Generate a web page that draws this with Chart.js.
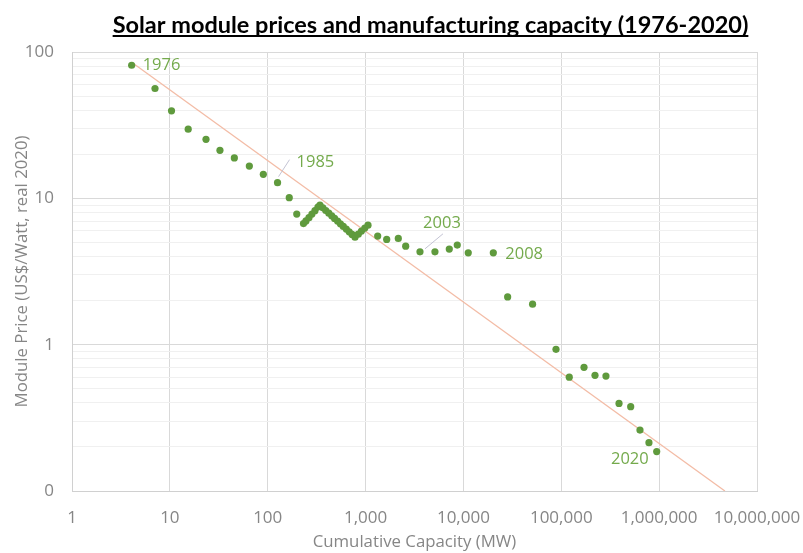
<!DOCTYPE html>
<html>
<head>
<meta charset="utf-8">
<script src="https://cdn.jsdelivr.net/npm/chart.js@4.4.1/dist/chart.umd.min.js"></script>
<style>
    html, body { margin: 0; padding: 0; background: #fff; }
    #wrap { width: 803px; height: 553px; position: relative; }
</style>
</head>
<body>
<div id="wrap"><canvas id="learningChart" width="803" height="553"></canvas></div>
<script>
// cumulative capacity (MW) and module price (US$/W, real 2020)
const capacityMW = [
    4.07, 7.05, 10.4, 15.4, 23.4, 32.5, 45.6, 64.9, 90.2, 126,
    166, 198, 232, 246, 264, 283, 304, 326, 342, 366,
    392, 421, 451, 482, 517, 553, 592, 635, 680, 728,
    780, 843, 908, 982, 1059, 1330, 1644, 2160, 2570, 3597,
    5117, 7170, 8650, 11200, 20200, 28300, 50900, 88300, 120700, 170700,
    221000, 286000, 389000, 512000, 637000, 787000, 944000
];
const priceUSD = [
    81.2, 56.3, 39.6, 29.7, 25.3, 21.3, 18.9, 16.6, 14.6, 12.8,
    10.1, 7.80, 6.72, 7.01, 7.38, 7.80, 8.24, 8.71, 8.99, 8.61,
    8.26, 7.92, 7.59, 7.29, 6.99, 6.70, 6.43, 6.16, 5.90, 5.67,
    5.43, 5.69, 5.97, 6.26, 6.56, 5.52, 5.24, 5.32, 4.71, 4.31,
    4.31, 4.50, 4.79, 4.24, 4.24, 2.12, 1.89, 0.93, 0.60, 0.70,
    0.617, 0.61, 0.397, 0.377, 0.261, 0.214, 0.186
];

// power-law trendline end points
const trendCapacity = [4.07, 4.7e6];
const trendPrice = [85, 0.1];

// year callouts and the point each one belongs to
const yearLabels = ['1976', '1985', '2003', '2008', '2020'];
const yearPointIndex = [0, 9, 39, 44, 56];

// axis ticks
const xTickValues = [1, 10, 100, 1000, 10000, 100000, 1000000, 10000000];
const yTickValues = [
    0.1, 0.2, 0.3, 0.4, 0.5, 0.6, 0.7, 0.8, 0.9,
    1, 2, 3, 4, 5, 6, 7, 8, 9,
    10, 20, 30, 40, 50, 60, 70, 80, 90, 100
];

const TITLE = 'Solar module prices and manufacturing capacity (1976-2020)';
const titleFont = { family: 'Lato, "Liberation Sans", sans-serif', size: 23.5, weight: 'bold' };
const axisFont = '"Open Sans", "Liberation Sans", sans-serif';
const greyText = '#868686';
const pointGreen = '#5f9a3d';
const labelGreen = '#74aa4c';

function isDecade(v) {
    const l = Math.log10(v);
    return Math.abs(l - Math.round(l)) < 1e-9;
}

// where each callout sits relative to its point (pixels)
const calloutStyle = [
    { dx: 11, dy: 0, align: 'left' },
    { dx: 19, dy: -20, align: 'left', leader: [1, -6, 12, -23] },
    { dx: 22, dy: -29, align: 'center', leader: [5, -3, 23, -18] },
    { dx: 12, dy: 1, align: 'left' },
    { dx: -8, dy: 8, align: 'right' }
];

const titlePlacement = {
    id: 'titlePlacement',
    afterLayout(chart) {
        // Excel centres the title a little right of the canvas middle
        const tb = chart.titleBlock;
        if (tb) { tb.left = 58; tb.right = 803; }
    },
    afterDraw(chart) {
        const tb = chart.titleBlock;
        if (!tb) return;
        const ctx = chart.ctx;
        ctx.save();
        ctx.font = `bold ${titleFont.size}px ${titleFont.family}`;
        const w = ctx.measureText(TITLE).width;
        const cx = (tb.left + tb.right) / 2;
        const y = tb.top + 11 + titleFont.size * 1.2 / 2 + 11;
        ctx.strokeStyle = '#000';
        ctx.lineWidth = 2;
        ctx.beginPath();
        ctx.moveTo(cx - w / 2, y);
        ctx.lineTo(cx + w / 2, y);
        ctx.stroke();
        ctx.restore();
    }
};

const yearCallouts = {
    id: 'yearCallouts',
    afterDatasetsDraw(chart) {
        const ctx = chart.ctx;
        const xs = chart.scales.x, ys = chart.scales.y;
        ctx.save();
        ctx.font = `16.5px ${axisFont}`;
        ctx.textBaseline = 'middle';
        yearLabels.forEach((txt, i) => {
            const idx = yearPointIndex[i];
            const px = xs.getPixelForValue(capacityMW[idx]);
            const py = ys.getPixelForValue(priceUSD[idx]);
            const st = calloutStyle[i];
            if (st.leader) {
                ctx.strokeStyle = '#c3c3d3';
                ctx.lineWidth = 1;
                ctx.beginPath();
                ctx.moveTo(px + st.leader[0], py + st.leader[1]);
                ctx.lineTo(px + st.leader[2], py + st.leader[3]);
                ctx.stroke();
            }
            ctx.fillStyle = labelGreen;
            ctx.textAlign = st.align;
            ctx.fillText(txt, px + st.dx, py + st.dy);
        });
        ctx.restore();
    }
};

const ctx = document.getElementById('learningChart');
new Chart(ctx, {
    type: 'scatter',
    data: {
        datasets: [
            {
                label: 'Module price',
                data: capacityMW.map((c, i) => ({ x: c, y: priceUSD[i] })),
                backgroundColor: pointGreen,
                borderColor: pointGreen,
                borderWidth: 0,
                pointRadius: 3.6,
                order: 1
            },
            {
                label: 'Trend',
                type: 'line',
                data: trendCapacity.map((c, i) => ({ x: c, y: trendPrice[i] })),
                borderColor: '#f3bca6',
                borderWidth: 1.3,
                pointRadius: 0,
                fill: false,
                order: 2
            }
        ]
    },
    options: {
        responsive: false,
        animation: false,
        layout: { padding: { left: 0, right: 46, top: 0, bottom: 0 } },
        plugins: {
            legend: { display: false },
            tooltip: { enabled: false },
            title: {
                display: true,
                text: TITLE,
                color: '#000',
                font: titleFont,
                padding: { top: 11, bottom: 12.8 }
            }
        },
        scales: {
            x: {
                type: 'logarithmic',
                min: 1,
                max: 10000000,
                afterBuildTicks: (scale) => { scale.ticks = xTickValues.map(v => ({ value: v })); },
                afterFit: (scale) => { scale.height = 62; },
                ticks: {
                    autoSkip: false,
                    maxRotation: 0,
                    padding: 0,
                    color: greyText,
                    font: { family: axisFont, size: 17 },
                    callback: (v) => Number(v).toLocaleString('en-US')
                },
                // invisible tick marks give the label gap without widening the right padding
                grid: { color: '#d9d9d9', drawTicks: true, tickLength: 17, tickColor: 'rgba(0,0,0,0)' },
                border: { color: '#d0d0d0' },
                title: {
                    display: true,
                    text: 'Cumulative Capacity (MW)',
                    color: greyText,
                    font: { family: axisFont, size: 16.8 },
                    padding: { top: 0, bottom: 1 }
                }
            },
            y: {
                type: 'logarithmic',
                min: 0.1,
                max: 100,
                afterBuildTicks: (scale) => { scale.ticks = yTickValues.map(v => ({ value: v })); },
                afterFit: (scale) => { scale.width = 72; },
                ticks: {
                    autoSkip: false,
                    padding: 18,
                    color: greyText,
                    font: { family: axisFont, size: 17 },
                    callback: (v) => {
                        if (!isDecade(v)) return '';
                        return v < 1 ? '0' : Number(v).toLocaleString('en-US');
                    }
                },
                grid: {
                    drawTicks: false,
                    color: (c) => (c.tick && isDecade(c.tick.value)) ? '#d9d9d9' : '#f0f0f0'
                },
                border: { color: '#d0d0d0' },
                title: {
                    display: true,
                    text: 'Module Price (US$/Watt, real 2020)',
                    color: greyText,
                    font: { family: axisFont, size: 16.8 },
                    padding: { top: 12, bottom: 0 }
                }
            }
        }
    },
    plugins: [titlePlacement, yearCallouts]
});
</script>
</body>
</html>
